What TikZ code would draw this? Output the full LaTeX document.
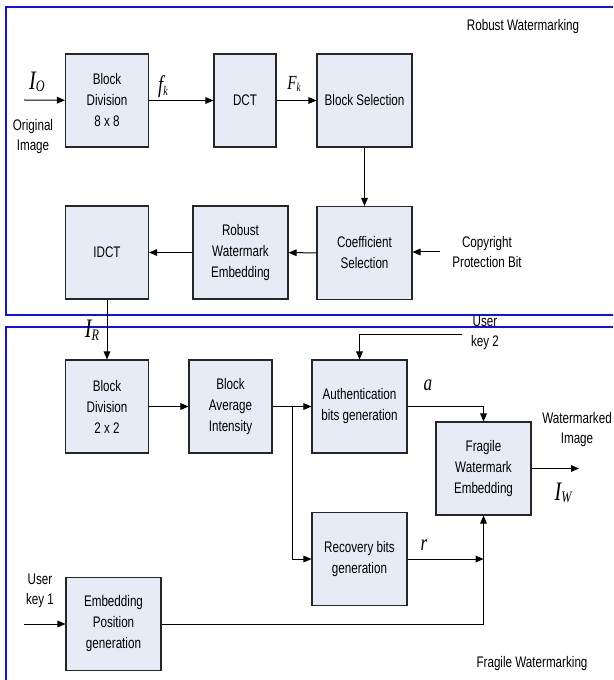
\documentclass[tikz,border=0pt]{standalone}
\usepackage{fontspec}
\setmainfont{Liberation Sans}[FakeStretch=0.76]
\newfontfamily\lblfont{Liberation Serif}[FakeStretch=0.76]
\usetikzlibrary{arrows.meta}

\definecolor{blkfill}{HTML}{E6ECF6}
\definecolor{framecol}{HTML}{1010F5}

% italic symbol with its index
\newcommand{\symlbl}[4]{{\lblfont\itshape\fontsize{#3}{#3}\selectfont #1\raisebox{-2pt}{\fontsize{#4}{#4}\selectfont #2}}}

\tikzset{
  blk/.style={draw=black!85, fill=blkfill, line width=0.8pt, minimum height=69.75pt,
    align=center, inner sep=1pt, font=\fontsize{11.5}{15.75}\selectfont},
  conn/.style={line width=0.75pt, -{Triangle[length=6pt,width=5pt]}},
  frame/.style={draw=framecol, line width=1.2pt},
  txt/.style={align=center, inner sep=0pt, font=\fontsize{11.5}{15}\selectfont},
}

\begin{document}
\begin{tikzpicture}[x=0.75pt, y=-0.75pt]
  \useasboundingbox (0,0) rectangle (613,680);
  \clip (0,0) rectangle (613,680);

  % section frames
  \draw[frame] (6,7) rectangle (650,315);
  \draw[frame] (6,327) rectangle (650,700);

  % processing blocks
  \foreach \nm/\cx/\cy/\w/\txt in {
      bdivA/107/100.5/83/{Block\\Division\\8 x 8},
      dct/245/100.5/62/{DCT},
      bsel/364.5/100.5/95/{Block Selection},
      coef/364.5/253/95/{Coefficient\\Selection},
      rwe/240.5/252.5/95/{Robust\\Watermark\\Embedding},
      idct/107/252.5/83/{IDCT},
      bdivB/107/406.5/83/{Block\\Division\\2 x 2},
      bavg/230.5/406.5/83/{Block\\Average\\Intensity},
      auth/359.5/406.5/95/{Authentication\\bits generation},
      fwe/483.5/468.5/95/{Fragile\\Watermark\\Embedding},
      recv/359.5/559/95/{Recovery bits\\generation},
      epos/113.5/624/95/{Embedding\\Position\\generation}} {
    \node[blk, minimum width=\w*0.75pt] (\nm) at (\cx,\cy) {\txt};
  }

  % free ends
  \coordinate (imgin) at (24,100);
  \coordinate (cpbin) at (440,252);
  \coordinate (keyBin) at (462,334);
  \coordinate (keyAin) at (24,624);
  \coordinate (imgout) at (579,468.5);
  \coordinate (split) at (292,406.5);

  % labels
  \node[txt] (robust) at (523,27) {Robust Watermarking};
  \node[txt] (fragile) at (532,664) {Fragile Watermarking};
  \node[txt] (orig) at (33,137) {Original\\Image};
  \node[txt] (cpb) at (487,252) {Copyright\\Protection Bit};
  \node[txt] (keyB) at (485,333) {User\\key 2};
  \node[txt] (keyA) at (40,591) {User\\key 1};
  \node[txt] (wimg) at (577,430) {Watermarked\\Image};
  \node (lIO) at (37,82) {\symlbl{I}{O}{20}{12}};
  \node (lfk) at (163,87) {\symlbl{f}{k}{18}{10}};
  \node (lFk) at (294,84) {\symlbl{F}{k}{15}{9}};
  \node (lIR) at (92,330) {\symlbl{I}{R}{20}{12}};
  \node (lIW) at (563,493) {\symlbl{I}{W}{20}{12}};
  \node (la) at (428,385) {\lblfont\itshape\fontsize{17}{17}\selectfont a};
  \node (lr) at (424,545) {\lblfont\itshape\fontsize{17}{17}\selectfont r};

  % robust part
  \draw[conn] (imgin) -- (bdivA);
  \draw[conn] (bdivA) -- (dct);
  \draw[conn] (dct) -- (bsel);
  \draw[conn] (bsel) -- (coef);
  \draw[conn] (cpbin) -- (coef.east |- cpbin);
  \draw[conn] (coef) -- (rwe);
  \draw[conn] (rwe) -- (idct);
  \draw[conn] (idct) -- (bdivB);

  % fragile part
  \draw[conn] (bdivB) -- (bavg);
  \draw[conn] (bavg) -- (auth);
  \draw[conn] (split) |- (recv.west);
  \draw[conn] (keyBin) -| (auth.north);
  \draw[conn] (auth.east) -| (fwe.north);
  \draw[conn] (recv.east) -- (recv.east -| fwe.south);
  \draw[conn] (keyAin) -- (epos.west);
  \draw[conn] (epos.east) -| (fwe.south);
  \draw[conn] (fwe.east) -- (imgout);
\end{tikzpicture}
\end{document}
